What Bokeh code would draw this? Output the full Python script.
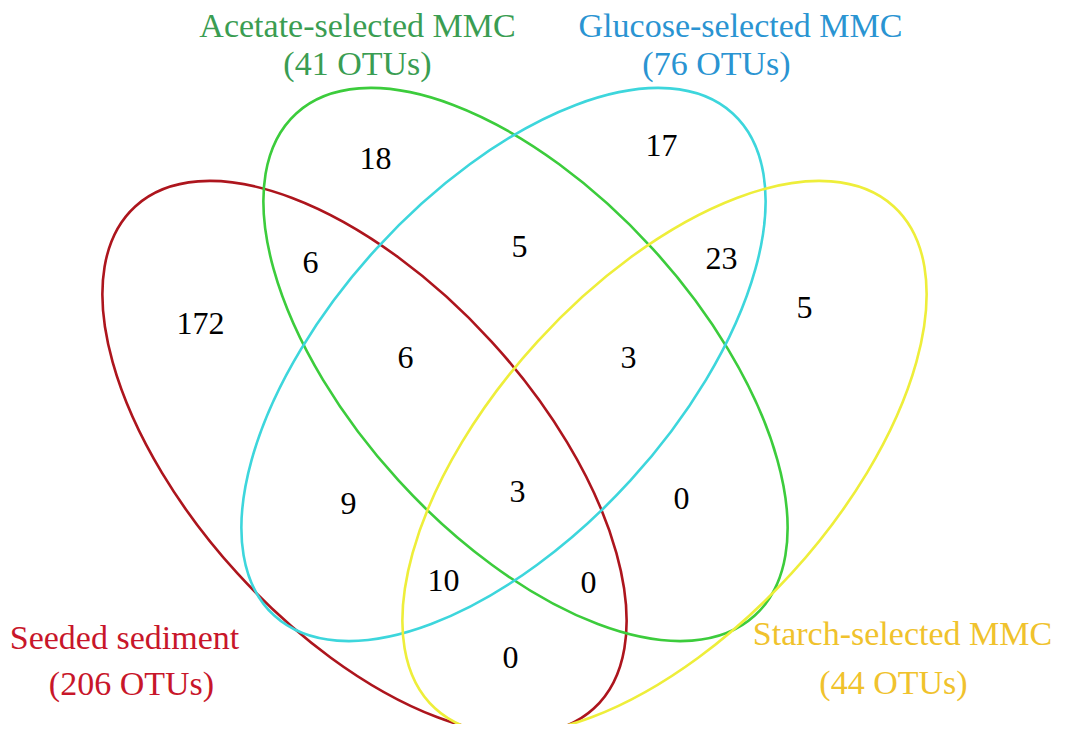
from bokeh.plotting import figure
from bokeh.models import Range1d, ColumnDataSource
from bokeh.core.properties import value
from bokeh.embed import file_html
from bokeh.resources import INLINE

# ---------------- data ----------------
set_names = ["Seeded sediment", "Acetate-selected MMC", "Glucose-selected MMC", "Starch-selected MMC"]
set_totals = [206, 41, 76, 44]

# region membership (S=Seeded, A=Acetate, G=Glucose, T=Starch) and OTU counts
region_keys = ["S", "A", "G", "T", "SA", "AG", "GT", "SAG", "AGT", "SG", "SAGT", "AT", "SGT", "SAT", "ST"]
region_counts = [172, 18, 17, 5, 6, 5, 23, 6, 3, 9, 3, 0, 10, 0, 0]

# ---------------- layout (screen pixel coordinates) ----------------
H = 740
ell_cx = [364, 525, 503, 664]
ell_cy = [457, 364, 364, 457]
ell_angle = [-47.6, -47.6, 47.6, 47.6]
ell_w, ell_h = 680, 344
ell_colors = ["#ad151d", "#3ccc3c", "#3dd6dc", "#eeee3a"]
label_colors = ["#c8162a", "#3a9d52", "#2a94d2", "#f0c22c"]

reg_x = [200, 375, 661, 804, 310, 519, 721, 405, 628, 348, 517, 681, 443, 588, 510]
reg_y = [323, 158, 145, 307, 262, 246, 258, 357, 357, 503, 491, 498, 580, 582, 657]

name_x = [124, 357, 740, 902]
name_y = [637, 25, 25, 633]
tot_x = [131, 357, 716, 893]
tot_y = [683, 63, 63, 682]

p = figure(width=1055, height=724, x_range=Range1d(0, 1055), y_range=Range1d(16, 740),
           output_backend="svg", toolbar_location=None, min_border=0)
p.axis.visible = False
p.grid.visible = False
p.outline_line_color = None
p.background_fill_color = "white"

ell_src = ColumnDataSource(dict(x=ell_cx, y=[H - v for v in ell_cy], a=ell_angle, c=ell_colors))
p.ellipse(x="x", y="y", width=ell_w, height=ell_h, angle="a", angle_units="deg",
          fill_color=None, line_color="c", line_width=2.6, source=ell_src)

reg_src = ColumnDataSource(dict(x=reg_x, y=[H - v for v in reg_y], t=[str(c) for c in region_counts]))
p.text(x="x", y="y", text="t", source=reg_src, text_font=value("Liberation Serif"),
       text_font_size="32px", text_align="center", text_baseline="middle", text_color="black")

lab_src = ColumnDataSource(dict(
    x=name_x + tot_x,
    y=[H - v for v in name_y] + [H - v for v in tot_y],
    t=set_names + ["(%d OTUs)" % n for n in set_totals],
    c=label_colors + label_colors))
p.text(x="x", y="y", text="t", source=lab_src, text_font=value("Liberation Serif"),
       text_font_size="34px", text_align="center", text_baseline="middle", text_color="c")

open("out.html", "w").write(file_html(p, INLINE))
